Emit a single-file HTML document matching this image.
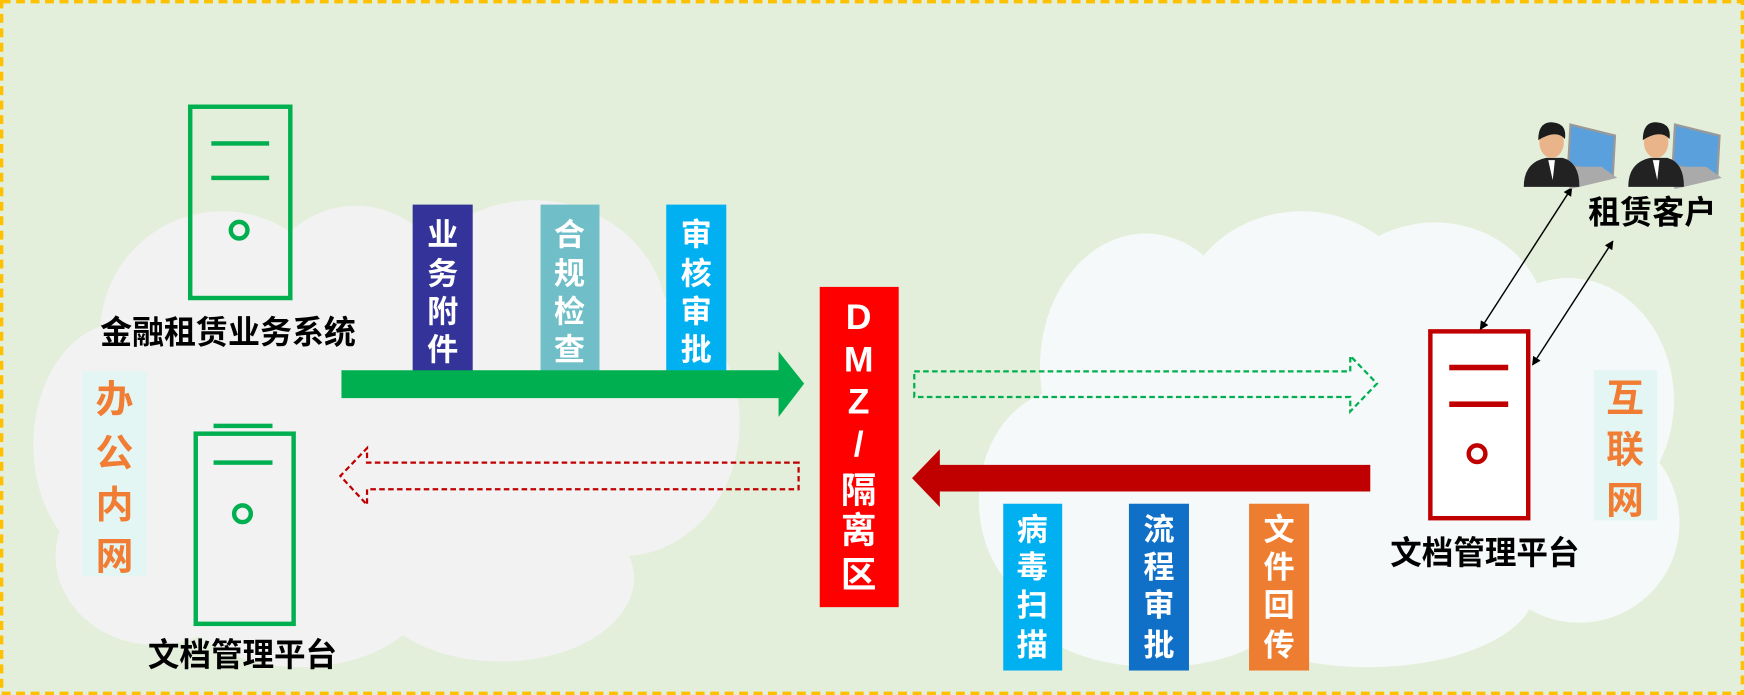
<!DOCTYPE html>
<html><head><meta charset="utf-8"><style>
html,body{margin:0;padding:0;width:1744px;height:695px;overflow:hidden;background:#e3efda}
svg{display:block}
text{font-family:"Liberation Sans","Noto Sans CJK SC",sans-serif;font-weight:bold}
</style></head><body>
<svg width="1744" height="695" viewBox="0 0 1568 625" preserveAspectRatio="none" xmlns="http://www.w3.org/2000/svg">
<rect x="0" y="0" width="1568" height="625" fill="#e3efda"/>
<rect x="1.5" y="1.5" width="1565" height="622" fill="none" stroke="#ffc000" stroke-width="3" stroke-dasharray="8,5"/>
<!-- left cloud -->
<g fill="#f2f2f2">
<ellipse cx="200" cy="300" rx="110" ry="110"/>
<ellipse cx="320" cy="280" rx="90" ry="95"/>
<ellipse cx="480" cy="290" rx="120" ry="110"/>
<ellipse cx="560" cy="380" rx="105" ry="120"/>
<ellipse cx="110" cy="400" rx="80" ry="110"/>
<ellipse cx="140" cy="500" rx="90" ry="80"/>
<ellipse cx="270" cy="520" rx="120" ry="80"/>
<ellipse cx="450" cy="520" rx="120" ry="75"/>
<ellipse cx="330" cy="400" rx="250" ry="140"/>
</g>
<!-- right cloud -->
<g fill="#f5f9f9">
<ellipse cx="1030" cy="330" rx="95" ry="120"/>
<ellipse cx="1170" cy="290" rx="110" ry="100"/>
<ellipse cx="1290" cy="290" rx="100" ry="90"/>
<ellipse cx="1410" cy="360" rx="95" ry="110"/>
<ellipse cx="1420" cy="470" rx="90" ry="90"/>
<ellipse cx="960" cy="450" rx="80" ry="100"/>
<ellipse cx="1040" cy="540" rx="120" ry="60"/>
<ellipse cx="1230" cy="530" rx="150" ry="70"/>
<ellipse cx="1200" cy="410" rx="260" ry="130"/>
</g>
<!-- left top server -->
<rect x="171" y="96" width="90" height="172" fill="none" stroke="#00b050" stroke-width="4"/>
<rect x="190" y="127" width="52" height="4" fill="#00b050"/>
<rect x="190" y="158" width="52" height="4" fill="#00b050"/>
<circle cx="215" cy="207" r="7.5" fill="none" stroke="#00b050" stroke-width="4"/>
<text x="90" y="309" font-size="29" textLength="230" lengthAdjust="spacingAndGlyphs" fill="#000">金融租赁业务系统</text>
<!-- left bottom server -->
<rect x="192" y="381" width="53" height="4" fill="#00b050"/>
<rect x="176" y="390" width="88" height="171" fill="none" stroke="#00b050" stroke-width="4"/>
<rect x="192" y="414" width="53" height="4" fill="#00b050"/>
<circle cx="218" cy="462" r="7.5" fill="none" stroke="#00b050" stroke-width="4"/>
<text x="133" y="599" font-size="29" textLength="170" lengthAdjust="spacingAndGlyphs" fill="#000">文档管理平台</text>
<!-- 办公内网 -->
<rect x="74" y="334" width="58" height="184" fill="#e3f6f3"/>
<g font-size="34" fill="#f07d33" text-anchor="middle">
<text x="103" y="371">办</text><text x="103" y="419">公</text><text x="103" y="466">内</text><text x="103" y="512">网</text>
</g>
<!-- top tags -->
<rect x="371" y="184" width="54" height="150" fill="#333399"/>
<rect x="486" y="184" width="53" height="150" fill="#70bfc8"/>
<rect x="599" y="184" width="54" height="150" fill="#00b0f0"/>
<g font-size="28" fill="#fff" text-anchor="middle">
<text x="398" y="221">业</text><text x="398" y="256">务</text><text x="398" y="290">附</text><text x="398" y="324">件</text>
<text x="512" y="221">合</text><text x="512" y="256">规</text><text x="512" y="290">检</text><text x="512" y="324">查</text>
<text x="626" y="221">审</text><text x="626" y="256">核</text><text x="626" y="290">审</text><text x="626" y="324">批</text>
</g>
<!-- green arrow -->
<polygon points="307,333 700,333 700,316 723,345 700,375 700,358 307,358" fill="#00b050"/>
<!-- DMZ -->
<rect x="737" y="258" width="71" height="288" fill="#ff0000"/>
<g font-size="32" fill="#fff" text-anchor="middle">
<text x="772" y="296">D</text><text x="772" y="334">M</text><text x="772" y="372">Z</text><text x="772" y="410">/</text>
<text x="772" y="452">隔</text><text x="772" y="488">离</text><text x="772" y="528">区</text>
</g>
<!-- green dashed hollow arrow -->
<polygon points="822,334 1214,334 1214,320 1238,345 1214,370 1214,357 822,357" fill="none" stroke="#00b050" stroke-width="2" stroke-dasharray="5,3"/>
<!-- red dashed hollow arrow -->
<polygon points="718,416 330,416 330,403 306,428 330,454 330,440 718,440" fill="none" stroke="#c00000" stroke-width="2" stroke-dasharray="5,3"/>
<!-- red solid arrow -->
<polygon points="1232,418 845,418 845,404 820,430 845,456 845,442 1232,442" fill="#c00000"/>
<!-- bottom tags -->
<rect x="902" y="453" width="53" height="150" fill="#00b0f0"/>
<rect x="1015" y="453" width="54" height="150" fill="#1070c8"/>
<rect x="1123" y="453" width="54" height="150" fill="#ed7d31"/>
<g font-size="28" fill="#fff" text-anchor="middle">
<text x="928" y="486">病</text><text x="928" y="520">毒</text><text x="928" y="554">扫</text><text x="928" y="590">描</text>
<text x="1042" y="486">流</text><text x="1042" y="520">程</text><text x="1042" y="554">审</text><text x="1042" y="590">批</text>
<text x="1150" y="486">文</text><text x="1150" y="520">件</text><text x="1150" y="554">回</text><text x="1150" y="590">传</text>
</g>
<!-- right server -->
<rect x="1286" y="298" width="88" height="168" fill="#fff" stroke="#c00000" stroke-width="4"/>
<rect x="1303" y="328" width="53" height="5" fill="#c00000"/>
<rect x="1303" y="361" width="53" height="5" fill="#c00000"/>
<circle cx="1328" cy="408" r="7.5" fill="none" stroke="#c00000" stroke-width="4"/>
<text x="1250" y="507" font-size="29" textLength="170" lengthAdjust="spacingAndGlyphs" fill="#000">文档管理平台</text>
<!-- 互联网 -->
<rect x="1433" y="333" width="57" height="135" fill="#e3f6f3"/>
<g font-size="34" fill="#f07d33" text-anchor="middle">
<text x="1461" y="370">互</text><text x="1461" y="416">联</text><text x="1461" y="462">网</text>
</g>
<!-- connectors -->
<defs><marker id="ah" markerWidth="8" markerHeight="8" refX="7" refY="4" orient="auto-start-reverse" markerUnits="userSpaceOnUse"><path d="M0,0 L8,4 L0,8 z" fill="#000"/></marker></defs>
<line x1="1413" y1="169" x2="1331" y2="296" stroke="#000" stroke-width="1.3" marker-start="url(#ah)" marker-end="url(#ah)"/>
<line x1="1450" y1="217" x2="1378" y2="328" stroke="#000" stroke-width="1.3" marker-start="url(#ah)" marker-end="url(#ah)"/>
<!-- people -->
<g id="p1">
<polygon points="1412,112 1452,122 1450,158 1410,148" fill="#5aa0dc" stroke="#999" stroke-width="2"/>
<polygon points="1398,150 1440,150 1454,160 1412,170" fill="#aaa"/>
<path d="M1370,168 Q1370,146 1390,142 L1405,142 Q1420,146 1420,168 z" fill="#222"/>
<ellipse cx="1395" cy="128" rx="11" ry="14" fill="#e9b48a"/>
<path d="M1383,126 Q1383,109 1396,110 Q1409,111 1407,125 Q1399,116 1383,126z" fill="#1c1c1c"/>
<polygon points="1392,144 1398,144 1396,162" fill="#fff"/>
</g>
<use href="#p1" transform="translate(94,0)"/>
<text x="1428" y="201" font-size="29" textLength="115" lengthAdjust="spacingAndGlyphs" fill="#000">租赁客户</text>
</svg>
</body></html>
